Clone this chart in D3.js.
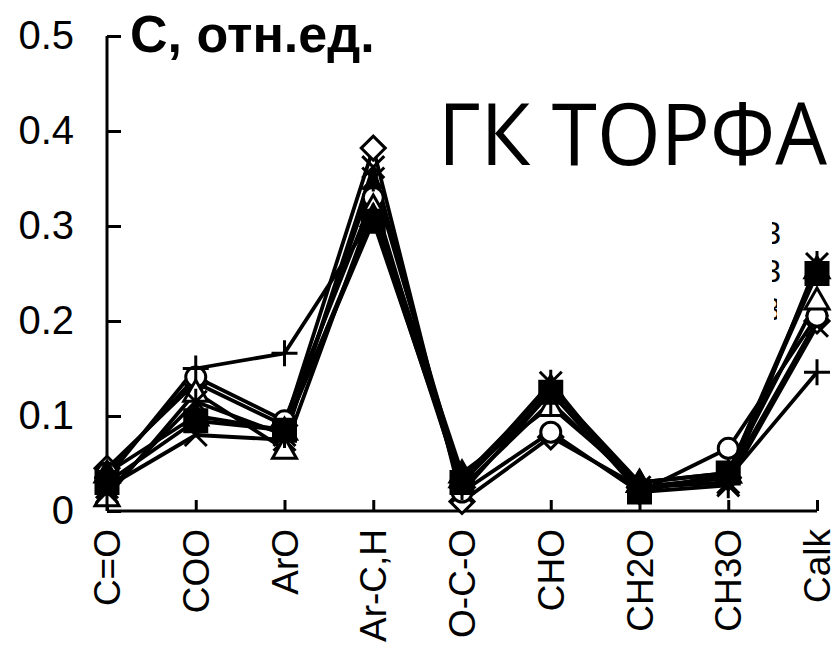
<!DOCTYPE html>
<html>
<head>
<meta charset="utf-8">
<script src="https://cdn.jsdelivr.net/npm/d3@7"></script>
<style>
  html, body { margin: 0; padding: 0; background: #fff; }
  svg { display: block; }
</style>
</head>
<body>
<div id="chart"></div>
<script>
// categories along the x axis
const categories = ["C=O", "COO", "ArO", "Ar-C,H", "O-C-O", "CHO", "CH2O", "CH3O", "Calk"];
const yTicks = [0, 0.1, 0.2, 0.3, 0.4, 0.5];

// one array per sample, named by its marker
const diamondVals  = [0.045, 0.135, 0.090, 0.382, 0.010, 0.078, 0.025, 0.035, 0.200];
const crossVals    = [0.025, 0.080, 0.075, 0.362, 0.020, 0.125, 0.025, 0.030, 0.195];
const circleVals   = [0.040, 0.141, 0.095, 0.330, 0.020, 0.083, 0.020, 0.066, 0.205];
const triangleVals = [0.015, 0.125, 0.065, 0.320, 0.040, 0.110, 0.030, 0.040, 0.222];
const squareVals   = [0.030, 0.095, 0.085, 0.305, 0.030, 0.125, 0.020, 0.040, 0.250];
const plusVals     = [0.035, 0.150, 0.166, 0.310, 0.025, 0.115, 0.025, 0.035, 0.146];
const starVals     = [0.020, 0.115, 0.080, 0.350, 0.030, 0.135, 0.020, 0.027, 0.260];
const triFillVals  = [0.040, 0.100, 0.085, 0.310, 0.035, 0.130, 0.030, 0.040, 0.255];

const series = [
    { marker: "diamond", values: diamondVals },
    { marker: "cross", values: crossVals },
    { marker: "circle", values: circleVals },
    { marker: "triangle", values: triangleVals },
    { marker: "square", values: squareVals },
    { marker: "plus", values: plusVals },
    { marker: "star", values: starVals },
    { marker: "triFill", values: triFillVals }
];

// text fragments of a legend that is cut off at the right
const legendBits = ["3", "3", "3"];

const width = 834, height = 650;
const svg = d3.select("#chart").append("svg")
    .attr("width", width)
    .attr("height", height);

// scales
const x = d3.scalePoint().domain(categories).range([107, 817]);
const y = d3.scaleLinear().domain([0, 0.5]).range([511, 36]);

const sans = "'Liberation Sans', Arial, sans-serif";

// y axis: ticks inside, labels outside
const yAxis = svg.append("g")
    .attr("transform", `translate(${x.range()[0]},0)`)
    .call(d3.axisLeft(y).tickValues(yTicks).tickSize(-14).tickPadding(33)
        .tickFormat(d => d === 0 ? "0" : d.toFixed(1)));
yAxis.select(".domain").attr("stroke-width", 3).attr("d", `M0,${y(0.5)}V${y(0)}`);
yAxis.selectAll(".tick line").attr("stroke-width", 3);
yAxis.selectAll(".tick text")
    .attr("font-family", sans).attr("font-size", 40).attr("fill", "#000");

// x axis: ticks pointing up, rotated labels
const xAxis = svg.append("g")
    .attr("transform", `translate(0,${y(0)})`)
    .call(d3.axisBottom(x).tickSize(-11).tickSizeOuter(0));
xAxis.select(".domain").attr("stroke-width", 3).attr("d", `M${x.range()[0]},0H${x.range()[1]}`);
xAxis.selectAll(".tick line").attr("stroke-width", 3);
xAxis.selectAll(".tick text")
    .attr("font-family", sans).attr("font-size", 37).attr("fill", "#000")
    .attr("transform", "rotate(-90)")
    .attr("text-anchor", "end")
    .attr("x", -18).attr("y", 0).attr("dy", "0.34em");

// lines
const line = d3.line()
    .x((d, i) => x(categories[i]))
    .y(d => y(d));

svg.append("g").selectAll("path")
    .data(series)
    .join("path")
    .attr("d", d => line(d.values))
    .attr("fill", "none")
    .attr("stroke", "#000")
    .attr("stroke-width", 3.8)
    .attr("stroke-linejoin", "round");

// marker shapes
const markerPath = {
    diamond: "M0,-12L12,0L0,12L-12,0Z",
    circle: "M10,0A10,10 0 1,1 -10,0A10,10 0 1,1 10,0Z",
    triangle: "M0,-12L12,9L-12,9Z",
    triFill: "M0,-12L12,9L-12,9Z",
    square: "M-11,-11H11V11H-11Z",
    plus: "M-13,0H13M0,-13V13",
    cross: "M-11,-11L11,11M-11,11L11,-11",
    star: "M-11,-11L11,11M-11,11L11,-11M0,-13V13"
};
const filled = { square: true, triFill: true };
const open = { diamond: true, circle: true, triangle: true };

const markerLayer = svg.append("g");
series.forEach(s => {
    markerLayer.append("g").selectAll("path")
        .data(s.values)
        .join("path")
        .attr("transform", (d, i) => `translate(${x(categories[i])},${y(d)})`)
        .attr("d", markerPath[s.marker])
        .attr("fill", filled[s.marker] ? "#000" : (open[s.marker] ? "#fff" : "none"))
        .attr("stroke", "#000")
        .attr("stroke-width", 3);
});

// titles
svg.append("text")
    .attr("x", 130).attr("y", 52)
    .attr("font-family", sans).attr("font-weight", "bold").attr("font-size", 52)
    .text("С, отн.ед.");

svg.append("text")
    .attr("x", 438).attr("y", 165)
    .attr("font-family", "'Open Sans', sans-serif").attr("font-size", 86)
    .attr("textLength", 389).attr("lengthAdjust", "spacingAndGlyphs")
    .text("ГК ТОРФА");

// clipped legend remnants on the right
const defs = svg.append("defs");
legendBits.forEach((b, i) => {
    defs.append("clipPath").attr("id", "legclip" + i)
        .append("rect")
        .attr("x", i < 2 ? 772 : 774).attr("width", i < 2 ? 10 : 3)
        .attr("y", 214 + i * 38).attr("height", 36);
});
svg.append("g")
    .selectAll("text")
    .data(legendBits)
    .join("text")
    .attr("clip-path", (d, i) => `url(#legclip${i})`)
    .attr("x", 781)
    .attr("y", (d, i) => 244 + i * 38)
    .attr("text-anchor", "end")
    .attr("font-family", sans).attr("font-size", 32)
    .text(d => d);
</script>
</body>
</html>
